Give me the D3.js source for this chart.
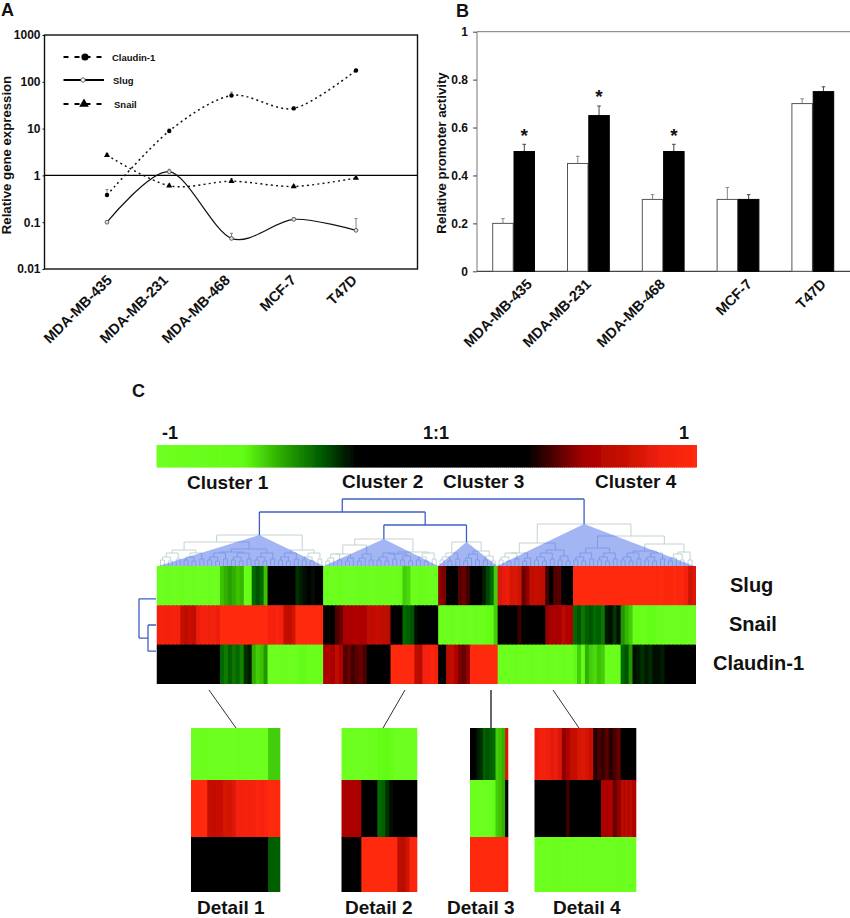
<!DOCTYPE html>
<html><head><meta charset="utf-8">
<script src="https://cdn.jsdelivr.net/npm/d3@7/dist/d3.min.js"></script>
<style>
html,body{margin:0;padding:0;background:#fff}
svg{display:block}
text{font-family:"Liberation Sans",Arial,sans-serif;font-weight:700;fill:#111}
</style></head><body>
<svg id="chart" width="850" height="918"></svg>
<script>
// ---------- shared categories
const cellLines = ["MDA-MB-435","MDA-MB-231","MDA-MB-468","MCF-7","T47D"];

// ---------- panel A
const aTicks = [0.01,0.1,1,10,100,1000];
const aTickLabels = ["0.01","0.1","1","10","100","1000"];
const claudinExpr = [0.38,8.9,51,27,175];
const slugExpr    = [0.1,1.2,0.045,0.115,0.067];
const snailExpr   = [2.7,0.6,0.75,0.58,0.88];
const claudinErr  = [0.5,9.8,60,29,185];
const slugErr     = [0.1,1.35,0.058,0.125,0.12];
const snailErr    = [2.9,0.65,0.85,0.62,0.98];

// ---------- panel B
const bTicks = [0,0.2,0.4,0.6,0.8,1];
const bTickLabels = ["0","0.2","0.4","0.6","0.8","1"];
const whiteBars = [0.2,0.45,0.3,0.3,0.7];
const blackBars = [0.5,0.65,0.5,0.3,0.75];
const whiteErr  = [0.02,0.03,0.02,0.05,0.02];
const blackErr  = [0.03,0.04,0.03,0.02,0.02];
const significant = [true,true,true,false,false];

// ---------- panel C heat map (one value per column)
const slugRow = [
-.9,-.95,-.85,-.9,-.95,-.9,-.85,-.95,-.9,-.85,-.95,-.9,-.9,-.85,-.95,-.9,
-.58,-.55,-.52,-.55,-.58,-.56,-.8,-.75,-.42,-.38,-.42,-.58,
0,0,0,0,0,0,0,-.33,-.3,-.27,-.26,-.28,-.26,-.26,
-.95,-.9,-.95,-.9,-.85,-.9,-.95,-.95,-.9,-.88,-.85,-.9,-.95,-.9,-.85,-.85,-.9,-.92,-.85,-.8,
-.6,-.62,-.85,-.9,-.8,-.85,-.9,-.95,-.85,
.55,.52,.3,.3,.3,.48,.5,.45,.3,.3,.3,-.3,-.36,-.42,-.6,
.8,.82,.85,.78,.8,.75,.5,.55,.7,.72,.7,.68,
.45,.3,.47,.48,.3,.3,.3,
1,1,1,1,1,1,1,1,1,1,1,1,1,1,1,1,1,1,1,1,.98,.98,1,.97,.96,.98,.96,.97,.9,.75,.8];
const snailRow = [
.9,.92,.88,.9,.92,.9,.72,.68,.74,.7,.85,.88,.9,.86,.88,.85,
1,1,1,1,1,1,1,1,1,1,1,1,.92,.9,.93,.9,.72,.7,.75,1,1,1,1,1,1,1,
.35,.38,.3,.47,.5,.6,.58,.6,.62,.6,.6,.7,.68,.72,.7,.68,.66,0,0,0,-.42,-.4,-.38,-.27,-.26,0,0,0,0,
-.9,-.95,-.9,-.85,-.95,-.9,-.85,-.9,-.95,-.85,-.9,-.85,-.75,-.7,-.6,
0,0,0,0,0,.44,.3,0,0,0,0,0,.55,.6,.58,.6,.65,.64,.62,
-.42,-.38,-.44,-.4,-.38,-.42,-.4,-.44,-.3,-.27,-.34,-.28,-.5,-.56,-.6,
-.85,-.8,-.9,-.82,-.7,-.7,-.9,-.85,-.95,-.9,-.95,-.9,-.85,-.9,-.95,-.9];
const claudinRow = [
0,0,0,0,0,0,0,0,0,0,0,0,0,0,0,0,
-.42,-.45,-.4,-.44,-.42,-.46,-.33,-.3,-.55,-.6,-.58,-.5,
-.95,-.9,-.95,-.9,-.85,-.9,-.95,-.9,-.7,-.72,-.85,-.9,-.85,-.9,
.6,.62,.58,.68,.62,.47,.5,.45,.48,.5,.46,0,0,0,0,0,0,1,1,1,1,1,1,.7,.65,.88,.92,.95,.9,
0,0,.66,.7,.64,.52,.5,.55,1,1,1,1,1,1,1,
-.95,-.9,-.95,-.9,-.85,-.9,-.95,-.9,-.85,-.9,-.95,-.9,-.85,-.9,-.95,-.9,-.85,-.9,-.95,
-.7,-.6,-.72,-.55,-.6,-.62,-.58,-.6,-.9,-.85,-.92,-.88,-.42,-.38,-.5,
-.28,-.3,-.33,-.3,-.32,-.28,-.27,-.3,0,0,0,0,0,0,0,0];
const rowNames = ["Slug","Snail","Claudin-1"];

// colour bar stops
const colorStops = [-1,-.68,-.55,-.4,-.26,.37,.45,.58,.75,.86,1];
const colorRange = ["#70ff22","#62fc14","#30b000","#006000","#000000","#000000","#400000","#a80000","#cc1204","#f0200a","#ff2a08"];

// dendrogram pieces: [merge height, child, child], 0 = leaf
const a2=[6,0,0], b3=[8,[5,0,0],0], c4=[10,[6,0,0],[5,0,0]], d5=[12,[8,[5,0,0],0],[6,0,0]], e6=[13,[9,[6,0,0],[5,0,0]],[7,0,0]];
const cluster1Tree=[31,[24,[16,e6,e6],[17,[14,e6,e6],e6]],[16,e6,e6]];
const cluster2Tree=[27,[21,[12,d5,b3],d5],[14,[12,e6,c4],e6]];
const cluster3Tree=[24,e6,[15,d5,c4]];
const cluster4Tree=[42,[23,[13,e6,b3],[16,e6,c4]],[30,[18,e6,e6],[22,[15,e6,e6],[14,d5,a2]]]];
const topClusters=[cluster1Tree,cluster2Tree,cluster3Tree,cluster4Tree];
const columnTree=[67,[54,cluster1Tree,[41,cluster2Tree,cluster3Tree]],cluster4Tree];
const rowTree=[17,0,[8,0,0]];

// detail panels
const details = [
 {name:"Detail 1",
  slug:[-.95,-.95,-.9,-.9,-.9,-.9,-.9,-.95,-.9,-.9,-.95,-.9,-.9,-.9,-.95,-.95,-.9,-.9,-.9,-.6,-.6,-.6],
  snail:[1,1,1,1,.72,.7,.72,.74,.78,.76,.8,.9,.88,.92,.9,.92,.94,.92,.96,1,1,1],
  claudin:[0,0,0,0,0,0,0,0,0,0,0,0,0,0,0,0,0,0,0,-.4,-.4,-.4]},
 {name:"Detail 2",
  slug:[-.95,-.95,-.95,-.95,-.95,-.9,-.9,-.9,-.9,-.75,-.7,-.72,-.8,-.95,-.95,-.95,-.95,-.95,-.95],
  snail:[.6,.6,.6,.6,.6,0,0,0,0,-.42,-.4,-.33,-.28,0,0,0,0,0,0],
  claudin:[0,0,0,0,0,1,1,1,1,1,1,1,1,1,.68,.66,.75,.95,.95]},
 {name:"Detail 3",
  slug:[0,0,-.3,-.33,-.4,-.38,-.4,-.42,-.6,-.58,-.55,.8],
  snail:[-.9,-.9,-.9,-.9,-.9,-.9,-.85,-.7,-.6,-.58,-.55,-.1],
  claudin:[1,1,1,1,1,1,1,1,1,1,1,.97]},
 {name:"Detail 4",
  slug:[.85,.88,.9,.86,.82,.85,.8,.55,.6,.7,.72,.78,.8,.76,.74,.42,.46,.44,.48,.42,.46,.5,0,0,0,0],
  snail:[0,0,0,0,0,0,0,0,.44,0,0,0,0,0,0,0,0,.58,.6,.62,.5,.55,.65,.66,.65,.64],
  claudin:[-.9,-.9,-.9,-.95,-.9,-.9,-.9,-.95,-.9,-.9,-.9,-.95,-.9,-.9,-.9,-.95,-.9,-.9,-.9,-.95,-.9,-.9,-.9,-.95,-.9,-.9]}
];
const clusterLabels = ["Cluster 1","Cluster 2","Cluster 3","Cluster 4"];
const scaleLabels = ["-1","1:1","1"];

const svg = d3.select("#chart");
const color = d3.scaleLinear().domain(colorStops).range(colorRange);
const defs = svg.append("defs");
defs.append("filter").attr("id","soft").attr("x","-2%").attr("y","-2%").attr("width","104%").attr("height","104%")
  .append("feGaussianBlur").attr("stdDeviation",0.6);

function label(sel,x,y,t,size,anchor){
  return sel.append("text").attr("x",x).attr("y",y).attr("font-size",size).attr("text-anchor",anchor||"start").text(t);
}
function rotated(sel,x,y,t,size,angle){
  return sel.append("text").attr("transform",`translate(${x},${y}) rotate(${angle})`).attr("text-anchor","end").attr("font-size",size).text(t);
}
function styleAxis(g,stroke,sw,size){
  g.selectAll("path").remove();
  g.selectAll("line").attr("stroke",stroke).attr("stroke-width",sw);
  g.selectAll("text").attr("font-size",size).style("font-family",'"Liberation Sans",Arial,sans-serif').style("font-weight",700).attr("fill","#111");
}

// ========== PANEL A ==========
const A = svg.append("g");
label(A,1,16,"A",18);
const ax = d3.scalePoint().domain(cellLines).range([107,356]);
const ay = d3.scaleLog().domain([0.01,1000]).range([269,35]);
const frameL=44.5, frameR=417.5;
A.append("rect").attr("x",frameL).attr("y",ay(1000)).attr("width",frameR-frameL).attr("height",ay(0.01)-ay(1000))
  .attr("fill","none").attr("stroke","#111").attr("stroke-width",1.4);
A.append("line").attr("x1",frameL).attr("x2",frameR).attr("y1",ay(1)).attr("y2",ay(1)).attr("stroke","#000").attr("stroke-width",1.2);
const aAxis = A.append("g").attr("transform",`translate(${frameL},0)`)
  .call(d3.axisLeft(ay).tickValues(aTicks).tickFormat((d,i)=>aTickLabels[i]).tickSize(2).tickPadding(2));
styleAxis(aAxis,"#111",1,12);
A.append("text").attr("transform","translate(11,155) rotate(-90)").attr("text-anchor","middle").attr("font-size",13.2).text("Relative gene expression");

const lineGen = d3.line().x((d,i)=>ax(cellLines[i])).y(d=>ay(d)).curve(d3.curveCardinal.tension(0.1));
const series = [
 {v:claudinExpr,e:claudinErr,dash:"2,3.2",w:1.5,stroke:"#111",mark:"circle"},
 {v:slugExpr,e:slugErr,dash:null,w:1.2,stroke:"#111",mark:"open"},
 {v:snailExpr,e:snailErr,dash:"2,3.2",w:1.4,stroke:"#111",mark:"tri"}
];
const tri = d3.symbol().type(d3.symbolTriangle);
function marker(g,kind,x,y,big){
  if(kind==="circle") g.append("circle").attr("cx",x).attr("cy",y).attr("r",big?3.6:2.2).attr("fill","#000");
  else if(kind==="open") g.append("circle").attr("cx",x).attr("cy",y).attr("r",big?2.2:1.9).attr("fill",big?"#fff":"#ddd").attr("stroke","#555").attr("stroke-width",.9);
  else g.append("path").attr("transform",`translate(${x},${y})`).attr("d",tri.size(big?40:16)()).attr("fill","#000");
}
series.forEach(s=>{
  A.append("path").attr("d",lineGen(s.v)).attr("fill","none").attr("stroke",s.stroke).attr("stroke-width",s.w).attr("stroke-dasharray",s.dash);
  s.v.forEach((d,i)=>{
    const x=ax(cellLines[i]);
    if(s.e[i]>d*1.03){
      A.append("line").attr("x1",x).attr("x2",x).attr("y1",ay(d)).attr("y2",ay(s.e[i])).attr("stroke","#777").attr("stroke-width",.9);
      A.append("line").attr("x1",x-1.5).attr("x2",x+1.5).attr("y1",ay(s.e[i])).attr("y2",ay(s.e[i])).attr("stroke","#777").attr("stroke-width",.9);
    }
    marker(A,s.mark,x,ay(d),false);
  });
});
const aLegend = [
 {name:"Claudin-1",y:57,dash:"5,6",mark:"circle",sw:2,tx:112,mx:85},
 {name:"Slug",y:80,dash:null,mark:"open",sw:2,tx:113,mx:83},
 {name:"Snail",y:104,dash:"5,6",mark:"tri",sw:2,tx:114,mx:84}
];
aLegend.forEach(l=>{
  A.append("line").attr("x1",63.5).attr("x2",104).attr("y1",l.y).attr("y2",l.y).attr("stroke","#000").attr("stroke-width",l.sw).attr("stroke-dasharray",l.dash);
  marker(A,l.mark,l.mx,l.y,true);
  label(A,l.tx,l.y+3.5,l.name,9.5);
});
const aLabelEnds=[113,169,231,297,358];
cellLines.forEach((c,i)=>rotated(A,aLabelEnds[i],281,c,14.5,-45));

// ========== PANEL B ==========
const B = svg.append("g");
label(B,456,17,"B",18);
const bx = d3.scaleBand().domain(cellLines).range([476.2,850.2]);
const bSub = d3.scaleBand().domain(["white","black"]).range([-21.3,21.3]);
const by = d3.scaleLinear().domain([0,1]).range([271.3,31.7]);
const bLeft=477;
B.append("line").attr("x1",bLeft).attr("x2",850).attr("y1",by(1)).attr("y2",by(1)).attr("stroke","#666").attr("stroke-width",.9);
B.append("line").attr("x1",bLeft).attr("x2",bLeft).attr("y1",by(1)).attr("y2",by(0)).attr("stroke","#aaa").attr("stroke-width",1.6);
B.append("line").attr("x1",bLeft).attr("x2",850).attr("y1",by(0)).attr("y2",by(0)).attr("stroke","#444").attr("stroke-width",1.2);
const bAxis = B.append("g").attr("transform",`translate(${bLeft},0)`)
  .call(d3.axisLeft(by).tickValues(bTicks).tickFormat((d,i)=>bTickLabels[i]).tickSize(4).tickPadding(5));
styleAxis(bAxis,"#444",1,12);
B.append("text").attr("transform","translate(446,153) rotate(-90)").attr("text-anchor","middle").attr("font-size",13.2).text("Relative promoter activity");
cellLines.forEach((c,i)=>{
  const cx = bx(c)+bx.bandwidth()/2;
  [["white",whiteBars[i],whiteErr[i],"#fff","#555","#888"],["black",blackBars[i],blackErr[i],"#000","#000","#444"]].forEach(([k,v,e,f,st,ec])=>{
    const x=cx+bSub(k), w=bSub.bandwidth(), mid=x+w/2;
    B.append("line").attr("x1",mid).attr("x2",mid).attr("y1",by(v)).attr("y2",by(v+e)).attr("stroke",ec).attr("stroke-width",1);
    B.append("line").attr("x1",mid-1.8).attr("x2",mid+1.8).attr("y1",by(v+e)).attr("y2",by(v+e)).attr("stroke",ec).attr("stroke-width",1);
    B.append("rect").attr("x",x+.4).attr("y",by(v)).attr("width",w-.8).attr("height",by(0)-by(v)).attr("fill",f).attr("stroke",st).attr("stroke-width",1);
    if(k==="black"&&significant[i]) label(B,mid,by(v+e)-2.5,"*",19,"middle");
  });
});
const bLabelEnds=[533,592,666,753,827];
cellLines.forEach((c,i)=>rotated(B,bLabelEnds[i],285,c,14.5,-45));

// ========== PANEL C ==========
const C = svg.append("g");
label(C,132,397,"C",18);
const hx0=156.5,hx1=696;
const scaleX = d3.scaleLinear().domain([-1,1]).range([hx0,hx1]);
const barVals = d3.range(-1,1,2/270);
C.append("g").attr("filter","url(#soft)").selectAll("rect").data(barVals).join("rect")
  .attr("x",d=>scaleX(d)).attr("y",445).attr("width",3).attr("height",22.5).attr("fill",d=>color(d));
label(C,162,439,scaleLabels[0],18);
label(C,423,439,scaleLabels[1],18);
label(C,679,439,scaleLabels[2],18);
[[187,489],[342,488],[443,488],[595,488]].forEach((p,i)=>label(C,p[0],p[1],clusterLabels[i],19));

// heat map drawing helper; columns overlap to the right to avoid seams
function heat(parent,rows,x0,x1,edges){
  const n=rows[0].length;
  const xs=d3.scaleBand().domain(d3.range(n)).range([x0,x1]);
  const clipId="h"+Math.round(x0)+"_"+Math.round(edges[0]);
  defs.append("clipPath").attr("id",clipId).append("rect").attr("x",x0).attr("y",edges[0]).attr("width",x1-x0).attr("height",edges[3]-edges[0]);
  const outer=parent.append("g").attr("filter","url(#soft)");
  const g=outer.append("g").attr("clip-path",`url(#${clipId})`);
  rows.forEach((vals,r)=>{
    g.append("g").selectAll("rect").data(vals).join("rect")
      .attr("x",(d,i)=>xs(i)).attr("y",edges[r]).attr("width",xs.bandwidth()+1.5).attr("height",edges[r+1]-edges[r]+.5)
      .attr("fill",d=>color(d));
  });
}
const hy = d3.scaleBand().domain([0,1,2]).range([566,684]);
heat(C,[slugRow,snailRow,claudinRow],hx0,hx1,[hy(0),hy(1),hy(2),684]);
const rowLabelX=[730,729,713];
rowNames.forEach((n,i)=>label(C,rowLabelX[i],hy(i)+hy.bandwidth()/2+6,n,20));

// column dendrogram
const kids = d=>Array.isArray(d)?d.slice(1):null;
const colRoot = d3.hierarchy(columnTree,kids);
d3.cluster().separation(()=>1).size([hx1-hx0-4,1])(colRoot);
const dh = d3.scaleLinear().domain([0,67]).range([566,499]);
const colH = d=>Array.isArray(d.data)?d.data[0]:0;
const X = d=>d.x+hx0+2;
const bracket = d=>{
  const c=d.children; const y=dh(colH(d));
  return c.map(k=>`M${X(k)},${dh(colH(k))}V${y}`).join("")+`M${X(c[0])},${y}H${X(c[c.length-1])}`;
};
const internal = colRoot.descendants().filter(d=>d.children);
const clusterApexes = internal.filter(d=>topClusters.includes(d.data));
const triPoints = clusterApexes.map(d=>{
  const lv=d.leaves();
  return [[X(lv[0])-2,566],[X(d),dh(colH(d))],[X(lv[lv.length-1])+2,566]];
});
const dendro=C.append("g").attr("filter","url(#soft)");
const clip=defs.append("clipPath").attr("id","triclip");
triPoints.forEach(p=>clip.append("path").attr("d",d3.line()(p)+"Z"));
const isCore = d=>!clusterApexes.some(a=>d.ancestors().includes(a));
dendro.append("g").selectAll("path").data(internal.filter(d=>!isCore(d))).join("path")
  .attr("d",bracket).attr("fill","none").attr("stroke","#c3d2d2").attr("stroke-width",1);
triPoints.forEach(p=>dendro.append("path").attr("d",d3.line()(p)+"Z").attr("fill","#a3b6f3"));
dendro.append("g").attr("clip-path","url(#triclip)").selectAll("path").data(internal.filter(d=>!isCore(d))).join("path")
  .attr("d",bracket).attr("fill","none").attr("stroke","#7f99e8").attr("stroke-width",1);
C.append("g").selectAll("path").data(internal.filter(isCore)).join("path")
  .attr("d",bracket).attr("fill","none").attr("stroke","#3f5fc6").attr("stroke-width",1.3);

// row dendrogram
const rRoot=d3.hierarchy(rowTree,kids);
d3.cluster().separation(()=>1).size([hy.step()*2,1])(rRoot);
const rw=d3.scaleLinear().domain([0,17]).range([156,139]);
const rowY=d=>d.x+hy(0)+hy.bandwidth()/2;
const rowH=d=>Array.isArray(d.data)?d.data[0]:0;
C.append("g").selectAll("path").data(rRoot.descendants().filter(d=>d.children)).join("path")
  .attr("d",d=>d.children.map(k=>`M${rw(rowH(k))},${rowY(k)}H${rw(rowH(d))}`).join("")+`M${rw(rowH(d))},${rowY(d.children[0])}V${rowY(d.children[1])}`)
  .attr("fill","none").attr("stroke","#3f5fc6").attr("stroke-width",1.3);

// detail panels
const detailX=[[191,280.3],[341.3,417.3],[470,508.3],[534.3,636.3]];
const detailEdges=[728,780,837,892];
const connectors=[[209,690,236,728,1],[405,690,383,728,1],[491,690,491,728,2],[553,690,579,728,1]];
const detailLabelPos=[[197,914],[345,914],[447,914],[553,914]];
details.forEach((d,i)=>{
  heat(C,[d.slug,d.snail,d.claudin],detailX[i][0],detailX[i][1],detailEdges);
  const c=connectors[i];
  C.append("line").attr("x1",c[0]).attr("y1",c[1]).attr("x2",c[2]).attr("y2",c[3]).attr("stroke",c[4]>1?"#666":"#333").attr("stroke-width",c[4]);
  label(C,detailLabelPos[i][0],detailLabelPos[i][1],d.name,19);
});
</script>
</body></html>
